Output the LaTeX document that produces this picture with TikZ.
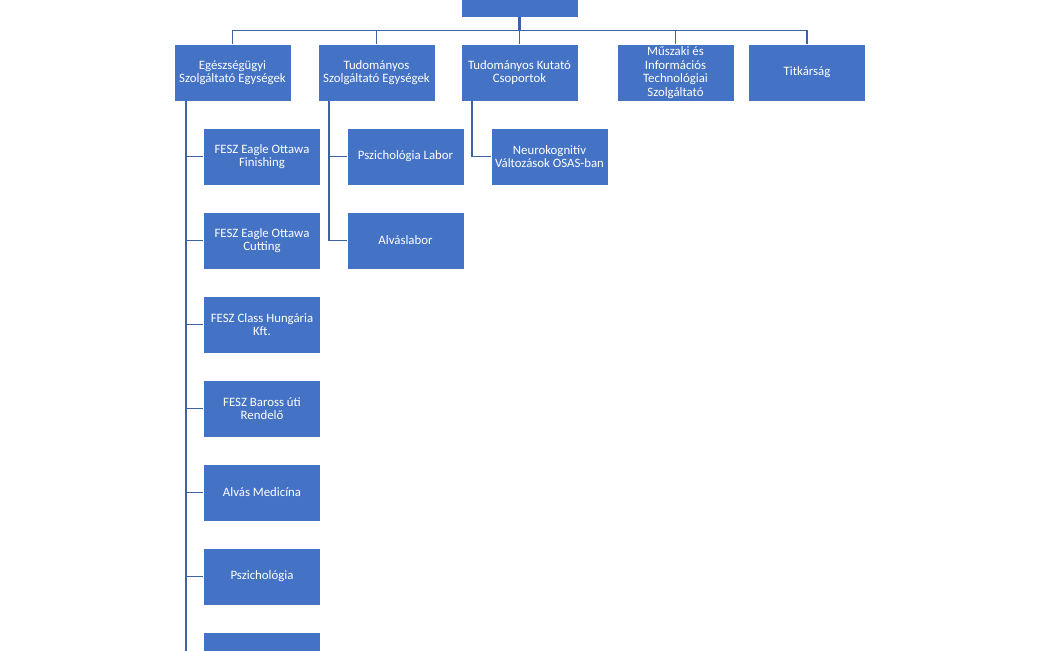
\documentclass[tikz,border=0pt]{standalone}
\usepackage{fontspec}
\setmainfont{Carlito}
\usetikzlibrary{positioning}
\definecolor{unitblue}{RGB}{68,114,196}
\definecolor{linkblue}{RGB}{62,98,168}

\begin{document}
\begin{tikzpicture}[
		x=1pt,
		y=-1pt,
		unit/.style={
			shape=rectangle,
			fill=unitblue,
			draw=white,
			line width=0.6pt,
			text=white,
			inner sep=2pt,
			minimum width=117pt,
			minimum height=57pt,
			align=center,
			font=\fontsize{12.8}{13.5}\selectfont,
		},
		link/.style={
			draw=linkblue,
			line width=1.6pt,
		},
	]
	\useasboundingbox (0,0) rectangle (1040,650);
	\clip (0,0) rectangle (1040,650);

	\node[unit] (root) at (519.5,-11.5) {};
	\coordinate (bus) at (519.5,30.5);

	\node[unit] (egesz) at (232.5,72.5) {Egészségügyi\\Szolgáltató Egységek};
	\node[unit] (tudszolg) at (376.5,72.5) {Tudományos\\Szolgáltató Egységek};
	\node[unit] (kutato) at (519.5,72.5) {Tudományos Kutató\\Csoportok};
	\node[unit] (muszaki) at (675.5,72.5) {Műszaki és\\Információs\\Technológiai\\Szolgáltató};
	\node[unit] (titkar) at (807,72.5) {Titkárság};

	\node[unit] (finishing) at (262,156.5) {FESZ Eagle Ottawa\\Finishing};
	\node[unit, below=26.4pt of finishing] (cutting) {FESZ Eagle Ottawa\\Cutting};
	\node[unit, below=26.4pt of cutting] (class) {FESZ Class Hungária\\Kft.};
	\node[unit, below=26.4pt of class] (baross) {FESZ Baross úti\\Rendelő};
	\node[unit, below=26.4pt of baross] (alvasmed) {Alvás Medicína};
	\node[unit, below=26.4pt of alvasmed] (pszich) {Pszichológia};
	\node[unit, below=26.4pt of pszich] (hetedik) {};

	\node[unit] (pszlabor) at (405.5,156.5) {Pszichológia Labor};
	\node[unit, below=26.4pt of pszlabor] (alvaslabor) {Alváslabor};

	\node[unit] (neuro) at (549.5,156.5) {Neurokognitív\\Változások OSAS-ban};

	\draw[link, line width=2.2pt] (root.south) -- (bus);
	\draw[link] (egesz.north) -- (egesz.north |- bus) -- (titkar.north |- bus) -- (titkar.north);
	\foreach \n in {tudszolg,kutato,muszaki}
		\draw[link] (\n.north) -- (\n.north |- bus);

	\foreach \n in {finishing,cutting,class,baross,alvasmed,pszich,hetedik}
		\draw[link] ([xshift=12pt]egesz.south west) |- (\n.west);
	\foreach \n in {pszlabor,alvaslabor}
		\draw[link] ([xshift=11pt]tudszolg.south west) |- (\n.west);
	\draw[link] ([xshift=11pt]kutato.south west) |- (neuro.west);
\end{tikzpicture}
\end{document}
